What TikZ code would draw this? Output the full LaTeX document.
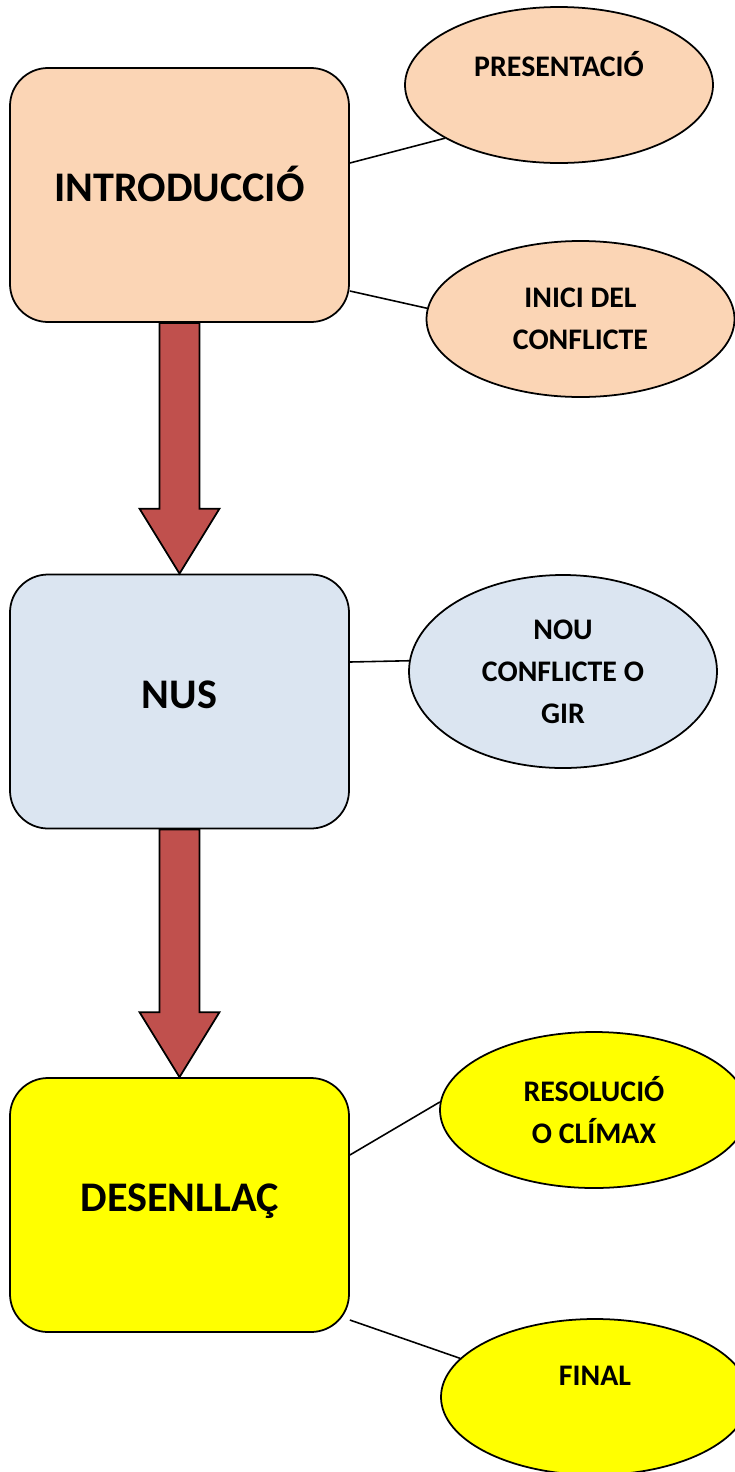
\documentclass[tikz,border=0pt]{standalone}
\usepackage{fontspec}
\setmainfont{Carlito}
\usetikzlibrary{shapes.geometric}
\definecolor{peach}{HTML}{FBD5B5}
\definecolor{paleblue}{HTML}{DBE5F1}
\definecolor{brickred}{HTML}{C0504D}
\definecolor{brightyellow}{HTML}{FFFF00}
\begin{document}
\begin{tikzpicture}[
     % define styles
     part/.style={
         draw,
         rounded corners=0.76cm,
         minimum width=6.78cm,
         minimum height=5.08cm,
         inner sep=0pt,
         text height=0.6cm,
         text depth=0.34cm,
         line width=1pt,
         font=\fontsize{24}{29}\selectfont\bfseries
     },
     idea/.style={
         draw,
         ellipse,
         inner sep=0pt,
         minimum width=6.16cm,
         minimum height=3.12cm,
         line width=1pt,
         align=center,
         font=\fontsize{17}{24}\selectfont\bfseries
     },
     link/.style={line width=0.9pt},
     bigarrow/.style={draw, fill=brickred, line width=1pt, line join=miter}
]
\useasboundingbox (0,0) rectangle (14.7,-29.44);

% the three parts of the story
\node[part, fill=peach] (intro) at (3.59,-3.90) {INTRODUCCIÓ};
\node[part, fill=paleblue] (nus) at (3.59,-14.03) {NUS};
\node[part, fill=brightyellow] (desenllac) at (3.59,-24.10) {DESENLLAÇ};

% ideas hanging off each part
\node[idea, fill=peach] (pres) at (11.18,-1.70) {PRESENTACIÓ\\\mbox{}};
\node[idea, fill=peach] (inici) at (11.61,-6.38) {INICI DEL\\CONFLICTE};
\node[idea, fill=paleblue, minimum height=3.86cm] (nou) at (11.26,-13.43) {NOU\\CONFLICTE O\\GIR};
\node[idea, fill=brightyellow] (resol) at (11.88,-22.20) {RESOLUCIÓ\\O CLÍMAX};
\node[idea, fill=brightyellow] (final) at (11.90,-27.94) {FINAL\\\mbox{}};

\draw[link] ([yshift=0.64cm]intro.east) -- (pres.205);
\draw[link] ([yshift=-1.92cm]intro.east) -- (inici.176);
\draw[link] ([yshift=0.79cm]nus.east) -- (nou.176);
\draw[link] ([yshift=1.0cm]desenllac.east) -- (resol.177);
\draw[link] ([yshift=-2.30cm]desenllac.east) -- (final.164);

% block arrows between the parts
\draw[bigarrow] ([xshift=-0.4cm]intro.south) -- ([xshift=-0.4cm,yshift=1.3cm]nus.north)
    -- ([xshift=-0.8cm,yshift=1.3cm]nus.north) -- (nus.north)
    -- ([xshift=0.8cm,yshift=1.3cm]nus.north) -- ([xshift=0.4cm,yshift=1.3cm]nus.north)
    -- ([xshift=0.4cm]intro.south) -- cycle;
\draw[bigarrow] ([xshift=-0.4cm]nus.south) -- ([xshift=-0.4cm,yshift=1.3cm]desenllac.north)
    -- ([xshift=-0.8cm,yshift=1.3cm]desenllac.north) -- (desenllac.north)
    -- ([xshift=0.8cm,yshift=1.3cm]desenllac.north) -- ([xshift=0.4cm,yshift=1.3cm]desenllac.north)
    -- ([xshift=0.4cm]nus.south) -- cycle;
\end{tikzpicture}
\end{document}
